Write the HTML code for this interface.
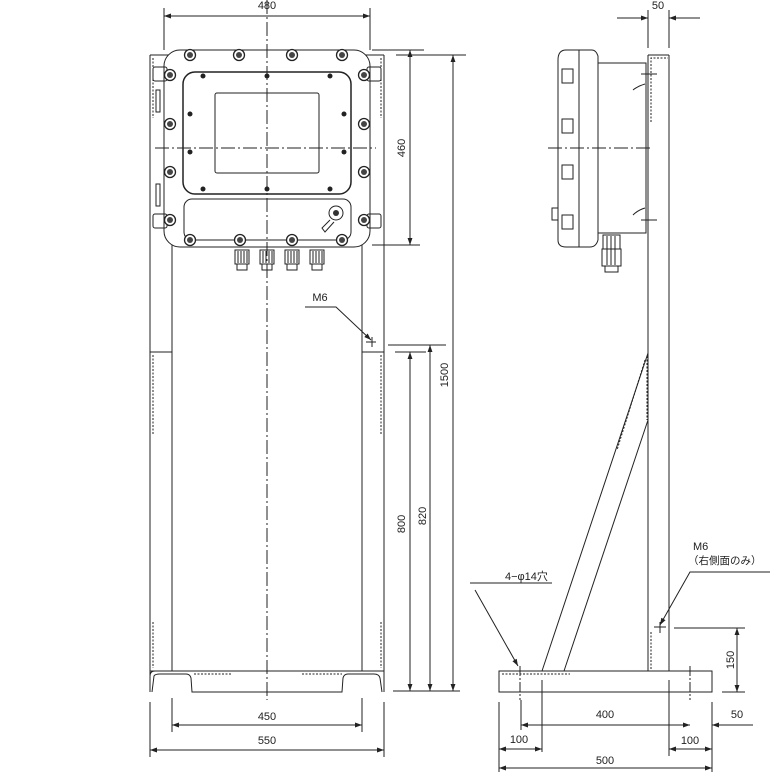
<!DOCTYPE html>
<html><head><meta charset="utf-8"><style>
html,body{margin:0;padding:0;background:#fff;}
svg{display:block;}
text{font-family:"Liberation Sans","Noto Sans CJK JP",sans-serif;font-size:11px;fill:#222;}
</style></head><body>
<svg width="770" height="775" viewBox="0 0 770 775" xmlns="http://www.w3.org/2000/svg">
<defs>
<marker id="a" viewBox="0 0 10 10" refX="10" refY="5" markerWidth="7" markerHeight="7" orient="auto-start-reverse"><path d="M0,1.5 L10,5 L0,8.5 z" fill="#222"/></marker>
<g id="bolt"><circle r="5.5" fill="#fff" stroke="#222" stroke-width="1.3"/><circle r="3" fill="#444"/></g>
<g id="gl"><rect x="-7" y="0" width="14" height="14" fill="#fff" stroke="#222"/><line x1="-4" y1="1" x2="-4" y2="13" stroke="#222"/><line x1="-1" y1="1" x2="-1" y2="13" stroke="#222"/><line x1="2" y1="1" x2="2" y2="13" stroke="#222"/><line x1="5" y1="1" x2="5" y2="13" stroke="#222"/><rect x="-5" y="14" width="10" height="6" fill="#fff" stroke="#222"/></g>
</defs>
<g fill="none" stroke="#222" stroke-width="1">
<!-- FRONT posts -->
<line x1="150" y1="55" x2="150" y2="692"/><line x1="172" y1="55" x2="172" y2="671"/>
<line x1="362" y1="55" x2="362" y2="671"/><line x1="384" y1="55" x2="384" y2="692"/>
<line x1="150" y1="55" x2="172" y2="55"/><line x1="362" y1="55" x2="384" y2="55"/>
<line x1="150" y1="352" x2="172" y2="352"/><line x1="362" y1="352" x2="384" y2="352"/>
<g stroke-dasharray="2,1.5"><line x1="153" y1="58" x2="153" y2="118"/><line x1="381" y1="58" x2="381" y2="118"/>
<line x1="153" y1="355" x2="153" y2="435"/><line x1="381" y1="355" x2="381" y2="435"/>
<line x1="153" y1="622" x2="153" y2="668"/><line x1="381" y1="622" x2="381" y2="668"/>
<line x1="194" y1="674" x2="232" y2="674"/><line x1="302" y1="674" x2="342" y2="674"/></g>
<!-- base -->
<path d="M150,671 L384,671 M150,692 L150,676 Q150,671 155,671 M152,692 L154,676 Q155,674 160,674 L186,674 Q190,674 191,678 L192,692 L342,692 L343,678 Q344,674 348,674 L374,674 Q379,674 380,678 L382,692"/>
<!-- enclosure -->
<rect x="164" y="50" width="206" height="197" rx="16" fill="#fff"/>
<rect x="183" y="72" width="168" height="122" rx="12" stroke-width="1.5"/>
<rect x="215" y="93" width="104" height="80" rx="2"/>
<rect x="184" y="199" width="167" height="41" rx="8"/>
<!-- side ears -->
<rect x="153" y="67" width="14" height="14" rx="2"/><rect x="367" y="67" width="14" height="14" rx="2"/>
<rect x="153" y="214" width="14" height="14" rx="2"/><rect x="367" y="214" width="14" height="14" rx="2"/>
<rect x="156" y="90" width="4" height="22"/><rect x="156" y="184" width="4" height="22"/>
</g>
<g>
<use href="#bolt" x="190" y="55"/><use href="#bolt" x="239" y="55"/><use href="#bolt" x="292" y="55"/><use href="#bolt" x="342" y="55"/>
<use href="#bolt" x="170" y="75"/><use href="#bolt" x="170" y="124"/><use href="#bolt" x="170" y="172"/><use href="#bolt" x="170" y="220"/>
<use href="#bolt" x="364" y="75"/><use href="#bolt" x="364" y="124"/><use href="#bolt" x="364" y="172"/><use href="#bolt" x="364" y="220"/>
<use href="#bolt" x="190" y="240"/><use href="#bolt" x="240" y="240"/><use href="#bolt" x="292" y="240"/><use href="#bolt" x="342" y="240"/>
<g fill="#222"><circle cx="203" cy="76" r="2.5"/><circle cx="267" cy="76" r="2.5"/><circle cx="330" cy="76" r="2.5"/>
<circle cx="190" cy="114" r="2.5"/><circle cx="344" cy="114" r="2.5"/><circle cx="190" cy="152" r="2.5"/><circle cx="344" cy="152" r="2.5"/>
<circle cx="203" cy="189" r="2.5"/><circle cx="267" cy="189" r="2.5"/><circle cx="330" cy="189" r="2.5"/></g>
<circle cx="336" cy="213" r="7" fill="#fff" stroke="#222"/><circle cx="336" cy="213" r="3" fill="#333"/>
<path d="M330,220 L322,228 L325,232 L334,222" fill="none" stroke="#222"/>
<use href="#gl" x="242" y="250"/><use href="#gl" x="267" y="250"/><use href="#gl" x="292" y="250"/><use href="#gl" x="317" y="250"/>
</g>
<g stroke="#222" fill="none" stroke-width="1">
<line x1="267" y1="0" x2="267" y2="700" stroke-dasharray="14,3,2,3"/>
<line x1="155" y1="148" x2="376" y2="148" stroke-dasharray="14,3,2,3"/>
<!-- M6 front -->
<path d="M305,307 L336,307 L371,340" marker-end="url(#a)"/>
<line x1="366" y1="342" x2="376" y2="342"/><line x1="372" y1="337" x2="372" y2="347"/>
<!-- dims front -->
<line x1="164" y1="8" x2="164" y2="50"/><line x1="370" y1="8" x2="370" y2="50"/>
<line x1="164" y1="16" x2="370" y2="16" marker-start="url(#a)" marker-end="url(#a)"/>
<line x1="372" y1="50" x2="424" y2="50"/><line x1="372" y1="245" x2="420" y2="245"/>
<line x1="410" y1="50" x2="410" y2="245" marker-start="url(#a)" marker-end="url(#a)"/>
<line x1="396" y1="55" x2="466" y2="55"/>
<line x1="453" y1="55" x2="453" y2="691" marker-start="url(#a)" marker-end="url(#a)"/>
<line x1="388" y1="345" x2="446" y2="345"/><line x1="395" y1="352" x2="426" y2="352"/>
<line x1="430" y1="345" x2="430" y2="691" marker-start="url(#a)" marker-end="url(#a)"/>
<line x1="410" y1="352" x2="410" y2="691" marker-start="url(#a)" marker-end="url(#a)"/>
<line x1="393" y1="691" x2="460" y2="691"/>
<line x1="172" y1="698" x2="172" y2="732"/><line x1="362" y1="698" x2="362" y2="732"/>
<line x1="172" y1="725" x2="362" y2="725" marker-start="url(#a)" marker-end="url(#a)"/>
<line x1="150" y1="702" x2="150" y2="757"/><line x1="384" y1="702" x2="384" y2="757"/>
<line x1="150" y1="750" x2="384" y2="750" marker-start="url(#a)" marker-end="url(#a)"/>
</g>
<text x="267" y="9" text-anchor="middle">480</text>
<text x="320" y="301" text-anchor="middle">M6</text>
<text x="267" y="720" text-anchor="middle">450</text>
<text x="267" y="744" text-anchor="middle">550</text>
<text transform="translate(405,148) rotate(-90)" text-anchor="middle">460</text>
<text transform="translate(448,375) rotate(-90)" text-anchor="middle">1500</text>
<text transform="translate(405,524) rotate(-90)" text-anchor="middle">800</text>
<text transform="translate(426,516) rotate(-90)" text-anchor="middle">820</text>

<!-- SIDE view -->
<g stroke="#222" fill="none" stroke-width="1">
<line x1="648" y1="55" x2="648" y2="671"/><line x1="669" y1="55" x2="669" y2="671"/><line x1="648" y1="55" x2="669" y2="55"/>
<g stroke-dasharray="2,1.5"><path d="M651,122 L651,58 L668,58"/><line x1="647" y1="356" x2="647" y2="420"/><line x1="645" y1="360" x2="617" y2="450"/><line x1="651" y1="632" x2="651" y2="670"/><line x1="502" y1="674" x2="570" y2="674"/></g>
<line x1="542" y1="671" x2="648" y2="353"/><line x1="564" y1="671" x2="648" y2="420"/>
<path d="M566,50 L592,50 Q596,50 598,56 L598,240 Q596,247 590,247 L566,247 Q558,247 558,240 L558,60 Q558,50 566,50 Z" fill="#fff"/>
<line x1="579" y1="50" x2="579" y2="247"/>
<rect x="598" y="63" width="48" height="170" fill="#fff"/>
<rect x="562" y="69" width="11" height="14"/><rect x="562" y="119" width="11" height="14"/><rect x="562" y="165" width="11" height="14"/><rect x="562" y="215" width="11" height="14"/>
<rect x="552" y="208" width="6" height="12"/>
<rect x="603" y="235" width="17" height="14"/><rect x="602" y="249" width="19" height="17"/><rect x="605" y="266" width="13" height="6"/>
<line x1="607" y1="236" x2="607" y2="265"/><line x1="611" y1="236" x2="611" y2="265"/><line x1="615" y1="236" x2="615" y2="265"/>
<path d="M633,90 Q638,86 645,84 M633,215 Q638,210 645,208"/>
<line x1="641" y1="74" x2="657" y2="74"/><line x1="641" y1="220" x2="657" y2="220"/>
<line x1="548" y1="148" x2="650" y2="148" stroke-dasharray="14,3,2,3"/>
<rect x="499" y="671" width="213" height="21"/>
<line x1="520" y1="666" x2="520" y2="700" stroke-dasharray="10,2,2,2"/><line x1="690" y1="666" x2="690" y2="700" stroke-dasharray="10,2,2,2"/>
<line x1="542" y1="680" x2="542" y2="752"/><line x1="669" y1="680" x2="669" y2="756"/>
<!-- leaders -->
<path d="M470,583 L552,583" /><line x1="475" y1="590" x2="518" y2="666" marker-end="url(#a)"/>
<path d="M770,572 L690,572 L660,625" marker-end="url(#a)"/>
<line x1="654" y1="627" x2="666" y2="627"/><line x1="660" y1="622" x2="660" y2="633"/>
<!-- dims side -->
<line x1="648" y1="10" x2="648" y2="48"/><line x1="669" y1="10" x2="669" y2="48"/>
<line x1="617" y1="18" x2="648" y2="18" marker-end="url(#a)"/><line x1="700" y1="18" x2="669" y2="18" marker-end="url(#a)"/>
<line x1="674" y1="628" x2="745" y2="628"/><line x1="722" y1="692" x2="745" y2="692"/>
<line x1="737" y1="628" x2="737" y2="692" marker-start="url(#a)" marker-end="url(#a)"/>
<line x1="499" y1="702" x2="499" y2="772"/><line x1="712" y1="702" x2="712" y2="772"/>
<line x1="521" y1="700" x2="521" y2="730"/>
<line x1="521" y1="725" x2="690" y2="725" marker-start="url(#a)" marker-end="url(#a)"/>
<line x1="753" y1="725" x2="712" y2="725" marker-end="url(#a)"/>
<line x1="499" y1="749" x2="542" y2="749" marker-start="url(#a)" marker-end="url(#a)"/>
<line x1="669" y1="749" x2="712" y2="749" marker-start="url(#a)" marker-end="url(#a)"/>
<line x1="499" y1="768" x2="712" y2="768" marker-start="url(#a)" marker-end="url(#a)"/>
</g>
<text x="658" y="9" text-anchor="middle">50</text>
<text x="505" y="580">4−φ14穴</text>
<text x="693" y="550">M6</text>
<text x="688" y="564" style="font-size:10.5px">（右側面のみ）</text>
<text transform="translate(734,660) rotate(-90)" text-anchor="middle">150</text>
<text x="605" y="718" text-anchor="middle">400</text>
<text x="737" y="718" text-anchor="middle">50</text>
<text x="519" y="743" text-anchor="middle">100</text>
<text x="690" y="744" text-anchor="middle">100</text>
<text x="605" y="764" text-anchor="middle">500</text>
</svg>
</body></html>
